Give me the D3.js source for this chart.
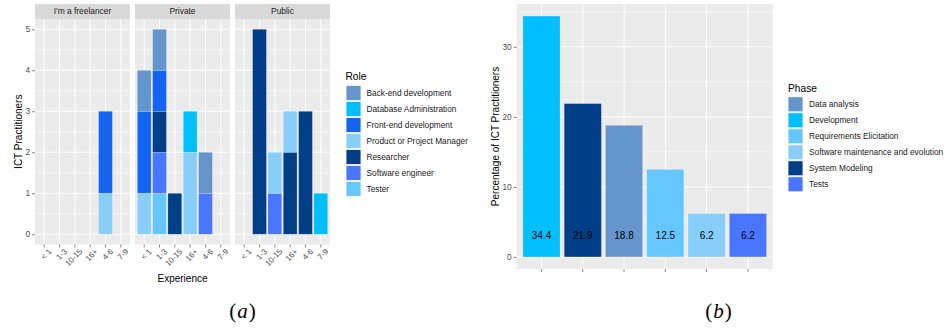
<!DOCTYPE html>
<html><head><meta charset="utf-8">
<script src="https://cdn.jsdelivr.net/npm/d3@7"></script>
<style>
body{margin:0;background:#fff;}
svg{display:block;font-family:"Liberation Sans",Arial,sans-serif;}
</style></head>
<body><svg id="c" width="947" height="328"></svg>
<script>
// ---------- data (a) ----------
const experience = ["< 1","1-3","10-15","16+","4-6","7-9"];
const sectors = ["I'm a freelancer","Private","Public"];
const roles = ["Back-end development","Database Administration","Front-end development","Product or Project Manager","Researcher","Software engineer","Tester"];
const roleColors = ["#6495CD","#00BFFF","#1464F4","#87CEFA","#003F87","#4876FF","#66C7FF"];
// counts per role (rows, same order as roles) and experience (columns)
const freelancerCounts = [
  [0,0,0,0,0,0],[0,0,0,0,0,0],[0,0,0,0,2,0],[0,0,0,0,1,0],[0,0,0,0,0,0],[0,0,0,0,0,0],[0,0,0,0,0,0]];
const privateCounts = [
  [1,1,0,0,1,0],[0,0,0,1,0,0],[2,1,0,0,0,0],[1,0,0,2,0,0],[0,1,1,0,0,0],[0,1,0,0,1,0],[0,1,0,0,0,0]];
const publicCounts = [
  [0,0,0,0,0,0],[0,0,0,0,0,1],[0,0,0,0,0,0],[0,0,1,1,0,0],[0,5,0,2,3,0],[0,0,1,0,0,0],[0,0,0,0,0,0]];
const countTicks = [0,1,2,3,4,5];

// ---------- data (b) ----------
const phases = ["Development","System Modeling","Data analysis","Requirements Elicitation","Software maintenance and evolution","Tests"];
const percentages = [34.4,21.9,18.8,12.5,6.2,6.2];
const percentLabels = ["34.4","21.9","18.8","12.5","6.2","6.2"];
const legendPhases = ["Data analysis","Development","Requirements Elicitation","Software maintenance and evolution","System Modeling","Tests"];
const phaseColors = ["#6495CD","#00BFFF","#66C7FF","#87CEFA","#003F87","#4876FF"];
const percentTicks = [0,10,20,30];

const svg = d3.select("#c");
const tickCol = "#4d4d4d";

// ================= Chart (a) =================
const sectorCounts = [freelancerCounts, privateCounts, publicCounts];
const aTop = 19, aBottom = 244.5, stripTop = 4;
const yA = d3.scaleLinear().domain([-0.25,5.25]).range([aBottom,aTop]);
const panelX = d3.scaleBand().domain(sectors).range([35,330]).paddingInner(5/100).paddingOuter(0);
const stackOrder = ["Tester","Software engineer","Researcher","Product or Project Manager","Front-end development","Database Administration","Back-end development"];
const roleColor = d3.scaleOrdinal().domain(roles).range(roleColors);

sectors.forEach((sec, si) => {
  const x0 = panelX(sec), w = panelX.bandwidth();
  const g = svg.append("g");
  const x = d3.scaleBand().domain(experience).range([x0, x0 + w]).paddingInner(0.1).paddingOuter(0.15);
  // panel bg
  g.append("rect").attr("x",x0).attr("y",aTop).attr("width",w).attr("height",aBottom-aTop).attr("fill","#ebebeb");
  // minor grid
  d3.range(0.5,5,1).forEach(v => g.append("line").attr("x1",x0).attr("x2",x0+w).attr("y1",yA(v)).attr("y2",yA(v)).attr("stroke","#fff").attr("stroke-width",0.5));
  countTicks.forEach(v => g.append("line").attr("x1",x0).attr("x2",x0+w).attr("y1",yA(v)).attr("y2",yA(v)).attr("stroke","#fff").attr("stroke-width",1));
  experience.forEach(e => { const cx = x(e)+x.bandwidth()/2;
    g.append("line").attr("x1",cx).attr("x2",cx).attr("y1",aTop).attr("y2",aBottom).attr("stroke","#fff").attr("stroke-width",1); });
  // strip
  g.append("rect").attr("x",x0).attr("y",stripTop).attr("width",w).attr("height",aTop-stripTop).attr("fill","#d9d9d9");
  g.append("text").attr("x",x0+w/2).attr("y",(stripTop+aTop)/2).attr("dy","0.35em").attr("text-anchor","middle")
    .attr("font-size","8.4px").attr("fill","#1a1a1a").text(sec);
  // stacked data
  const rows = experience.map((e, ei) => { const o = {exp:e}; roles.forEach((r, ri) => o[r] = sectorCounts[si][ri][ei]); return o; });
  const series = d3.stack().keys(stackOrder)(rows);
  series.forEach(s => {
    g.selectAll(null).data(s.filter(d => d[1] > d[0])).join("rect")
      .attr("x", d => x(d.data.exp)).attr("width", x.bandwidth())
      .attr("y", d => yA(d[1])).attr("height", d => yA(d[0]) - yA(d[1]))
      .attr("fill", roleColor(s.key)).attr("stroke","rgba(255,255,255,0.35)").attr("stroke-width",0.6);
  });
  // x axis ticks + labels
  experience.forEach(e => { const cx = x(e)+x.bandwidth()/2;
    g.append("line").attr("x1",cx).attr("x2",cx).attr("y1",aBottom).attr("y2",aBottom+3).attr("stroke","#333").attr("stroke-width",0.6);
    g.append("text").attr("transform",`translate(${cx+4},${aBottom+3.5}) rotate(-45)`).attr("dy","0.72em")
      .attr("text-anchor","end").attr("font-size","8px").attr("fill",tickCol).text(e);
  });
});
// y axis (a)
const yAxisA = svg.append("g").attr("transform","translate(35,0)")
  .call(d3.axisLeft(yA).tickValues(countTicks).tickSize(3).tickPadding(2).tickFormat(d3.format("d")));
yAxisA.select(".domain").remove();
yAxisA.selectAll(".tick line").attr("stroke","#333").attr("stroke-width",0.6);
yAxisA.selectAll(".tick text").attr("font-size","8.3px").attr("fill",tickCol).attr("font-family","Liberation Sans, Arial, sans-serif");
svg.append("text").attr("transform",`translate(18.5,${(aTop+aBottom)/2}) rotate(-90)`).attr("dy","0.35em")
  .attr("text-anchor","middle").attr("font-size","10px").attr("fill","#000").text("ICT Practitioners");
svg.append("text").attr("x",182.5).attr("y",282).attr("text-anchor","middle").attr("font-size","10px").attr("fill","#000").text("Experience");
// legend (a)
const legA = svg.append("g");
legA.append("text").attr("x",345.5).attr("y",80).attr("font-size","10.2px").attr("fill","#000").text("Role");
roles.forEach((r, i) => {
  const cy = 93 + i*16;
  legA.append("rect").attr("x",346).attr("y",cy-7.5).attr("width",15).attr("height",15).attr("fill",roleColor(r)).attr("stroke","#fff").attr("stroke-width",0.8);
  legA.append("text").attr("x",366.5).attr("y",cy).attr("dy","0.35em").attr("font-size","8.3px").attr("fill","#1a1a1a").text(r);
});

// ================= Chart (b) =================
const bLeft = 516.7, bRight = 772.7, bTop = 4, bBottom = 269;
const yB = d3.scaleLinear().domain([-1.72, 36.12]).range([bBottom, bTop]);
const xB = d3.scaleBand().domain(phases).range([bLeft,bRight]).paddingInner(0.1).paddingOuter(0.15);
const phaseColor = d3.scaleOrdinal().domain(legendPhases).range(phaseColors);
const gb = svg.append("g");
gb.append("rect").attr("x",bLeft).attr("y",bTop).attr("width",bRight-bLeft).attr("height",bBottom-bTop).attr("fill","#ebebeb");
[5,15,25,35].forEach(v => gb.append("line").attr("x1",bLeft).attr("x2",bRight).attr("y1",yB(v)).attr("y2",yB(v)).attr("stroke","#fff").attr("stroke-width",0.5));
percentTicks.forEach(v => gb.append("line").attr("x1",bLeft).attr("x2",bRight).attr("y1",yB(v)).attr("y2",yB(v)).attr("stroke","#fff").attr("stroke-width",1));
phases.forEach(p => { const cx = xB(p)+xB.bandwidth()/2;
  gb.append("line").attr("x1",cx).attr("x2",cx).attr("y1",bTop).attr("y2",bBottom).attr("stroke","#fff").attr("stroke-width",1); });
gb.selectAll(null).data(phases).join("rect")
  .attr("x", p => xB(p)).attr("width", xB.bandwidth())
  .attr("y", (p,i) => yB(percentages[i])).attr("height", (p,i) => yB(0) - yB(percentages[i]))
  .attr("fill", p => phaseColor(p)).attr("stroke","rgba(255,255,255,0.35)").attr("stroke-width",0.6);
gb.selectAll(null).data(phases).join("text")
  .attr("x", p => xB(p)+xB.bandwidth()/2).attr("y", yB(3)).attr("dy","0.35em").attr("text-anchor","middle")
  .attr("font-size","10px").attr("fill","#000").text((p,i) => percentLabels[i]);
// axes (b)
const xAxisB = svg.append("g").attr("transform",`translate(0,${bBottom})`).call(d3.axisBottom(xB).tickSize(3).tickFormat(""));
xAxisB.select(".domain").remove();
xAxisB.selectAll(".tick line").attr("stroke","#333").attr("stroke-width",0.6);
const yAxisB = svg.append("g").attr("transform",`translate(${bLeft},0)`)
  .call(d3.axisLeft(yB).tickValues(percentTicks).tickSize(3).tickPadding(2));
yAxisB.select(".domain").remove();
yAxisB.selectAll(".tick line").attr("stroke","#333").attr("stroke-width",0.6);
yAxisB.selectAll(".tick text").attr("font-size","8.3px").attr("fill",tickCol).attr("font-family","Liberation Sans, Arial, sans-serif");
svg.append("text").attr("transform",`translate(495,${(bTop+bBottom)/2}) rotate(-90)`).attr("dy","0.35em")
  .attr("text-anchor","middle").attr("font-size","10px").attr("fill","#000").text("Percentage of ICT Practitioners");
// legend (b)
const legB = svg.append("g");
legB.append("text").attr("x",788).attr("y",91.5).attr("font-size","10.2px").attr("fill","#000").text("Phase");
legendPhases.forEach((p, i) => {
  const cy = 104.3 + i*16;
  legB.append("rect").attr("x",788).attr("y",cy-7.5).attr("width",15).attr("height",15).attr("fill",phaseColor(p)).attr("stroke","#fff").attr("stroke-width",0.8);
  legB.append("text").attr("x",809).attr("y",cy).attr("dy","0.35em").attr("font-size","8.3px").attr("fill","#1a1a1a").text(p);
});

// captions
function caption(cx, letter){
  const t = svg.append("text").attr("x",cx).attr("y",318).attr("text-anchor","middle")
    .attr("font-family","'Liberation Serif','DejaVu Serif',serif").attr("font-size","21px").attr("fill","#000");
  t.append("tspan").text("(");
  t.append("tspan").attr("font-style","italic").attr("dx","1").text(letter);
  t.append("tspan").attr("dx","1").text(")");
}
caption(242.5,"a");
caption(718.5,"b");
</script></body></html>
